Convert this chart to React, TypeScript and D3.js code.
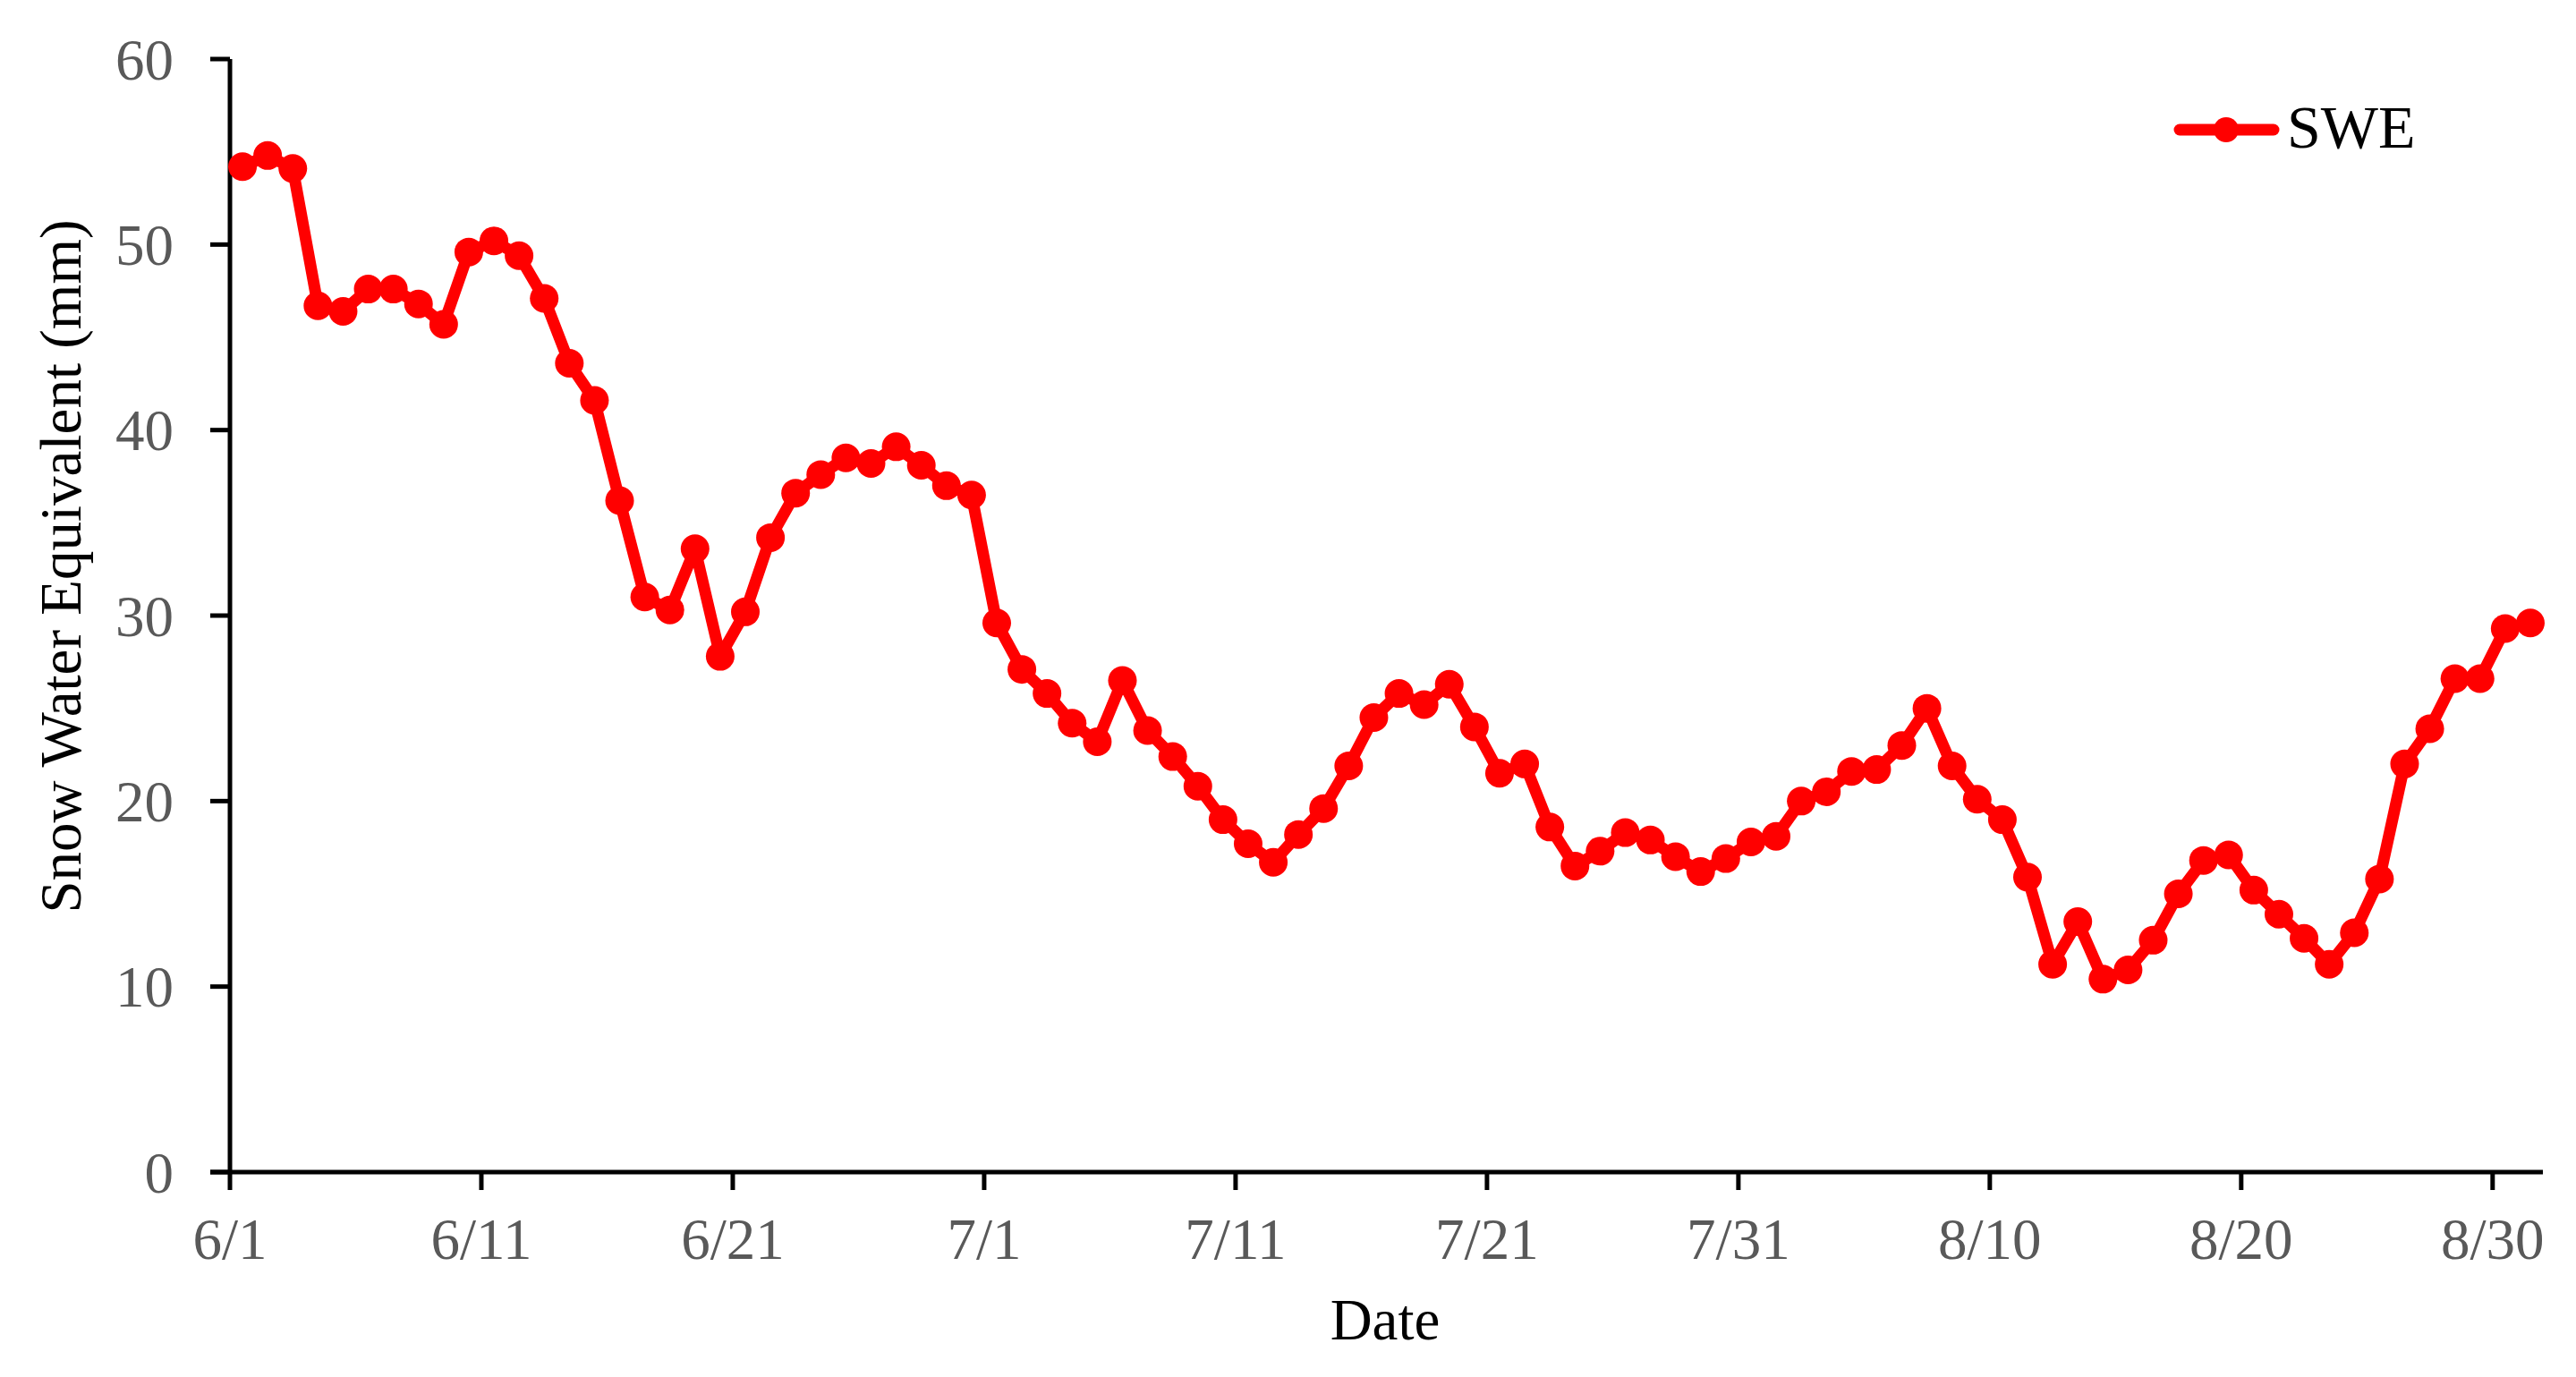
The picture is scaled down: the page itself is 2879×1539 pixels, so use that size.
import React from "react";
import * as d3 from "d3";

const seriesName = "SWE";
const sweValues: number[] = [
  54.2, 54.8, 54.1, 46.7, 46.4, 47.6, 47.6, 46.8, 45.7, 49.6,
  50.2, 49.4, 47.1, 43.6, 41.6, 36.2, 31.0, 30.3, 33.6, 27.8,
  30.2, 34.2, 36.6, 37.6, 38.5, 38.2, 39.1, 38.1, 37.0, 36.5,
  29.6, 27.1, 25.8, 24.2, 23.2, 26.5, 23.8, 22.4, 20.8, 19.0,
  17.7, 16.7, 18.2, 19.6, 21.9, 24.5, 25.8, 25.2, 26.3, 24.0,
  21.5, 22.0, 18.6, 16.5, 17.3, 18.3, 17.9, 17.0, 16.2, 16.9,
  17.8, 18.1, 20.0, 20.5, 21.6, 21.7, 23.0, 25.0, 21.9, 20.1,
  19.0, 15.9, 11.2, 13.5, 10.4, 10.9, 12.5, 15.0, 16.8, 17.1,
  15.2, 13.9, 12.6, 11.2, 12.9, 15.8, 22.0, 23.9, 26.6, 26.6,
  29.3, 29.6,
];
const xTickDays = [0, 10, 20, 30, 40, 50, 60, 70, 80, 90];
const xTickLabels = ["6/1", "6/11", "6/21", "7/1", "7/11", "7/21", "7/31", "8/10", "8/20", "8/30"];
const yTicks = [0, 10, 20, 30, 40, 50, 60];

export default function App() {
  const W = 2879, H = 1539;
  const x = d3.scaleLinear().domain([0, 92]).range([257, 2842]);
  const y = d3.scaleLinear().domain([0, 60]).range([1310, 66]);
  const line = d3.line<number>().x((_, i) => x(i + 0.5)).y((d) => y(d));
  const font = "'Liberation Serif', 'Times New Roman', serif";
  const red = "#ff0000";
  const tickColor = "#595959";
  return (
    <svg width={W} height={H} style={{ position: "absolute", left: 0, top: 0, background: "#fff" }} fontFamily={font}>
      <rect x={0} y={0} width={W} height={H} fill="#fff" />
      <line x1={x(0)} x2={x(0)} y1={y(60)} y2={y(0)} stroke="#000" strokeWidth={5} />
      <line x1={x(0) - 22} x2={x(92)} y1={y(0)} y2={y(0)} stroke="#000" strokeWidth={5} />
      {yTicks.map((t) => (
        <g key={"y" + t}>
          <line x1={x(0) - 22} x2={x(0)} y1={y(t)} y2={y(t)} stroke="#000" strokeWidth={5} />
          <text x={194} y={y(t)} dy="0.35em" textAnchor="end" fontSize={65} fill={tickColor}>{t}</text>
        </g>
      ))}
      {xTickDays.map((d, i) => (
        <g key={"x" + d}>
          <line x1={x(d)} x2={x(d)} y1={y(0)} y2={y(0) + 20} stroke="#000" strokeWidth={5} />
          <text x={x(d)} y={1407} textAnchor="middle" fontSize={65} fill={tickColor}>{xTickLabels[i]}</text>
        </g>
      ))}
      <text x={1548} y={1497} textAnchor="middle" fontSize={65} fill="#000">Date</text>
      <text transform="translate(90,633) rotate(-90)" textAnchor="middle" fontSize={65} fill="#000">Snow Water Equivalent (mm)</text>
      <path d={line(sweValues) || ""} fill="none" stroke={red} strokeWidth={13} strokeLinejoin="round" />
      {sweValues.map((v, i) => (
        <circle key={i} cx={x(i + 0.5)} cy={y(v)} r={16} fill={red} />
      ))}
      <line x1={2436} x2={2541} y1={145} y2={145} stroke={red} strokeWidth={13} strokeLinecap="round" />
      <circle cx={2488} cy={145} r={14} fill={red} />
      <text x={2556} y={165} fontSize={68} fill="#000">{seriesName}</text>
    </svg>
  );
}
